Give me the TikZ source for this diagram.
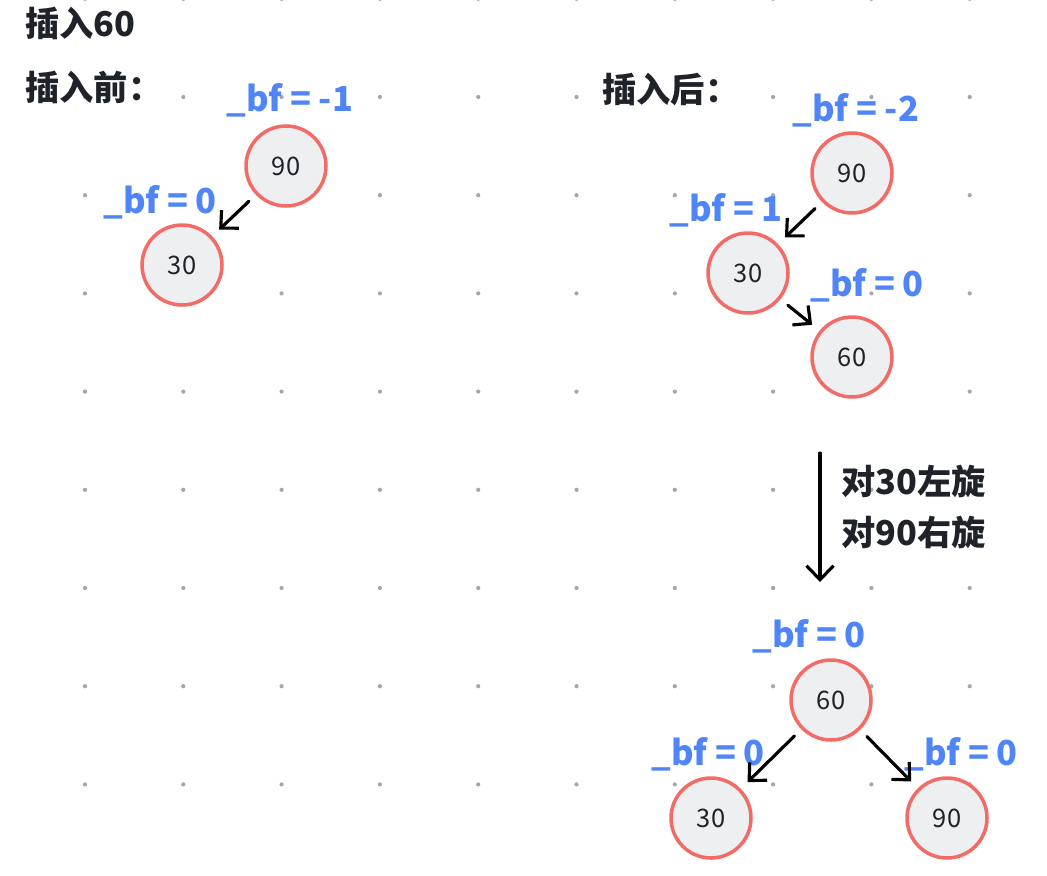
\documentclass[tikz,border=0pt]{standalone}
\usepackage{fontspec}
\setmainfont{Noto Sans CJK SC}
\usetikzlibrary{arrows.meta, positioning}
\definecolor{avlRing}{HTML}{F26B66}
\definecolor{avlFill}{HTML}{EEEFF1}
\definecolor{avlBf}{HTML}{4F85F6}
\definecolor{avlInk}{HTML}{1F2329}
\definecolor{avlDot}{HTML}{A3A6AE}

\begin{document}
\begin{tikzpicture}[
  x=0.02cm, y=-0.02cm,
  avl/.style={circle, draw=avlRing, line width=2pt, fill=avlFill, minimum size=1.6cm,
              inner sep=0pt, text=avlInk, font=\fontsize{14.5}{16}\selectfont},
  bf/.style={anchor=base west, inner sep=0pt, text=avlBf, font=\bfseries\fontsize{19.6}{22}\selectfont},
  head/.style={anchor=base west, inner sep=0pt, text=avlInk, font=\bfseries\fontsize{19.5}{22}\selectfont},
  link/.style={-{Straight Barb[length=2.6mm, width=5mm]}, line width=1.8pt, line cap=round,
               shorten <=0.19cm, shorten >=0.19cm},
  turn/.style={-{Straight Barb[length=2.8mm, width=5.4mm]}, line width=1.8pt, line cap=round}
]
\useasboundingbox (0,0) rectangle (1047,875);
\foreach \i in {0,...,9}
  \foreach \j in {-1,...,7}
    \fill[avlDot] (85+98.3*\i, 97+98.2*\j) circle (1.2pt);

\node[head] (title) at (25,37) {插入60};
\node[head] (before) at (25,100) {插入前：};
\node[head] (after) at (602,102) {插入后：};

\node[avl] (a90) at (286,166) {90};
\node[avl] (a30) at (182,265) {30};
\node[bf] at (226,112) {\_bf = -1};
\node[bf] at (103,213) {\_bf = 0};
\draw[link] (a90) -- (a30);

\node[avl] (b90) at (852,173) {90};
\node[avl] (b30) at (748,273) {30};
\node[avl] (b60) at (852,357) {60};
\node[bf] at (792,121) {\_bf = -2};
\node[bf] at (669,221) {\_bf = 1};
\node[bf] at (810,296) {\_bf = 0};
\draw[link] (b90) -- (b30);
\draw[link] (b30) -- (b60);

\coordinate (turnTop) at (820,453);
\coordinate (turnEnd) at (820,582);
\draw[turn] (turnTop) -- (turnEnd);
\node[head] (rotA) at (841,494) {对30左旋};
\node[head] (rotB) at (841,545) {对90右旋};

\node[avl] (c60) at (831,700) {60};
\node[avl] (c30) at (711,818) {30};
\node[avl] (c90) at (947,818) {90};
\node[bf] at (752,647) {\_bf = 0};
\node[bf] at (651,765) {\_bf = 0};
\node[bf] at (904,765) {\_bf = 0};
\draw[link] (c60) -- (c30);
\draw[link] (c60) -- (c90);
\end{tikzpicture}
\end{document}
